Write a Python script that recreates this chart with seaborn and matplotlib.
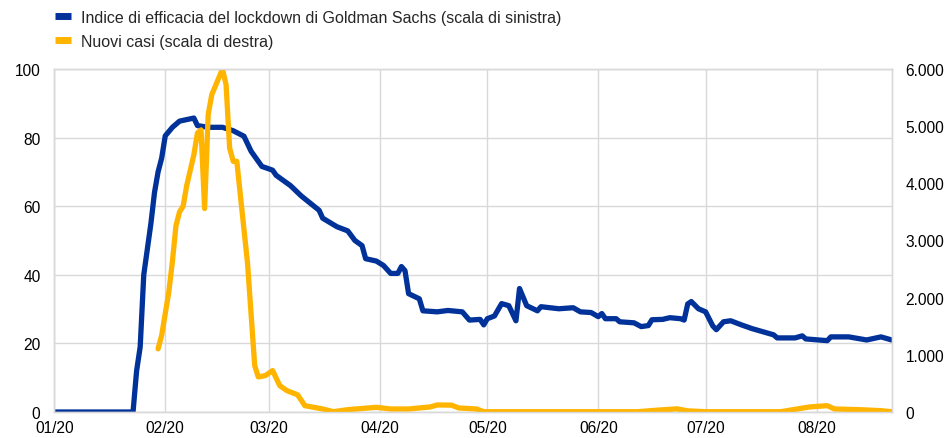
import matplotlib
matplotlib.use("Agg")
import matplotlib.pyplot as plt
import matplotlib.dates as mdates
from matplotlib.lines import Line2D
from matplotlib.ticker import FuncFormatter, MultipleLocator
import pandas as pd
import seaborn as sns

# Goldman Sachs lockdown effectiveness index (left scale)
index_dates = [
    "2020-01-01", "2020-01-23", "2020-01-24", "2020-01-25", "2020-01-26", "2020-01-28",
    "2020-01-29", "2020-01-30", "2020-01-31", "2020-02-01", "2020-02-03", "2020-02-05",
    "2020-02-09", "2020-02-10", "2020-02-13", "2020-02-17", "2020-02-20", "2020-02-23",
    "2020-02-25", "2020-02-28", "2020-03-02", "2020-03-03", "2020-03-07", "2020-03-10",
    "2020-03-15", "2020-03-16", "2020-03-20", "2020-03-23", "2020-03-25", "2020-03-27",
    "2020-03-28", "2020-03-31", "2020-04-02", "2020-04-04", "2020-04-06", "2020-04-07",
    "2020-04-08", "2020-04-09", "2020-04-12", "2020-04-13", "2020-04-17", "2020-04-20",
    "2020-04-24", "2020-04-26", "2020-04-29", "2020-04-30", "2020-05-01", "2020-05-03",
    "2020-05-05", "2020-05-07", "2020-05-09", "2020-05-10", "2020-05-12", "2020-05-15",
    "2020-05-16", "2020-05-21", "2020-05-25", "2020-05-27", "2020-05-30", "2020-06-01",
    "2020-06-02", "2020-06-03", "2020-06-06", "2020-06-07", "2020-06-11", "2020-06-13",
    "2020-06-15", "2020-06-16", "2020-06-19", "2020-06-21", "2020-06-24", "2020-06-25",
    "2020-06-26", "2020-06-27", "2020-06-29", "2020-07-01", "2020-07-03", "2020-07-04",
    "2020-07-06", "2020-07-08", "2020-07-11", "2020-07-14", "2020-07-17", "2020-07-20",
    "2020-07-21", "2020-07-26", "2020-07-28", "2020-07-29", "2020-08-04", "2020-08-05",
    "2020-08-10", "2020-08-15", "2020-08-19", "2020-08-22",
]
index_values = [
    0, 0, 12, 19, 40, 55,
    64, 70, 74, 80.5, 83, 84.8,
    85.7, 83.5, 83, 83, 82, 80.4,
    76, 71.6, 70.5, 69, 66, 63,
    58.8, 56.5, 54, 52.8, 50, 48.5,
    44.7, 44, 42.7, 40.4, 40.4, 42.4,
    41.2, 34.5, 33, 29.5, 29.2, 29.6,
    29.2, 26.8, 27, 25.4, 27.2, 28,
    31.6, 31, 26.6, 36, 31, 29.5,
    30.7, 30.1, 30.4, 29.2, 29, 27.8,
    28.7, 27.2, 27.2, 26.3, 26, 24.9,
    25.2, 26.9, 27, 27.5, 27.2, 26.8,
    31.5, 32.2, 30.1, 29.2, 25.1, 24,
    26.3, 26.6, 25.4, 24.3, 23.4, 22.5,
    21.6, 21.6, 22.2, 21.3, 20.8, 21.9,
    21.9, 21, 21.9, 21,
]

# New cases (right scale)
cases_dates = [
    "2020-01-30", "2020-01-31", "2020-02-02", "2020-02-03", "2020-02-04", "2020-02-05",
    "2020-02-06", "2020-02-07", "2020-02-09", "2020-02-10", "2020-02-11", "2020-02-12",
    "2020-02-13", "2020-02-14", "2020-02-17", "2020-02-18", "2020-02-19", "2020-02-20",
    "2020-02-21", "2020-02-24", "2020-02-26", "2020-02-27", "2020-02-29", "2020-03-02",
    "2020-03-04", "2020-03-06", "2020-03-09", "2020-03-11", "2020-03-16", "2020-03-19",
    "2020-03-23", "2020-03-31", "2020-04-04", "2020-04-09", "2020-04-15", "2020-04-17",
    "2020-04-21", "2020-04-23", "2020-04-28", "2020-04-30", "2020-06-12", "2020-06-17",
    "2020-06-23", "2020-06-26", "2020-07-01", "2020-07-22", "2020-07-30", "2020-08-04",
    "2020-08-06", "2020-08-13", "2020-08-19", "2020-08-22",
]
cases_values = [
    1105, 1340, 2100, 2630, 3260, 3500,
    3600, 3960, 4500, 4880, 4935, 3560,
    5200, 5550, 6000, 5725, 4615, 4385,
    4385, 2600, 812, 614, 637, 725,
    461, 374, 300, 111, 53, 5,
    41, 82, 53, 53, 88, 123,
    120, 70, 53, 5, 5, 30,
    55, 20, 5, 5, 88, 111,
    53, 41, 23, 5,
]

index_label = "Indice di efficacia del lockdown di Goldman Sachs (scala di sinistra)"
cases_label = "Nuovi casi (scala di destra)"

BLUE = "#003299"
YELLOW = "#FFB400"
GRID = "#d9d9d9"
FS = 11.2
LEG_FS = 11.5

sns.set_theme(style="white")
plt.rcParams["font.family"] = ["Liberation Sans", "DejaVu Sans"]
plt.rcParams["font.size"] = FS

index_df = pd.DataFrame({"date": pd.to_datetime(index_dates), "value": index_values})
cases_df = pd.DataFrame({"date": pd.to_datetime(cases_dates), "value": cases_values})

W, H = 947, 439
fig = plt.figure(figsize=(W / 100, H / 100), dpi=100)
x0, x1, y_top, y_bot = 54.3, 891.7, 70, 413
ax = fig.add_axes([x0 / W, 1 - y_bot / H, (x1 - x0) / W, (y_bot - y_top) / H])
ax2 = ax.twinx()

lw = 3.8
sns.lineplot(data=index_df, x="date", y="value", ax=ax, color=BLUE, lw=lw,
             solid_joinstyle="round", legend=False)
sns.lineplot(data=cases_df, x="date", y="value", ax=ax2, color=YELLOW, lw=lw,
             solid_joinstyle="round", legend=False)

ax.set_xlim(pd.Timestamp("2020-01-01"), pd.Timestamp("2020-08-22"))
ax.set_ylim(0, 100)
ax2.set_ylim(0, 6000)
ax.yaxis.set_major_locator(MultipleLocator(20))
ax2.yaxis.set_major_locator(MultipleLocator(1000))
ax2.yaxis.set_major_formatter(FuncFormatter(lambda v, p: f"{int(v):,}".replace(",", ".")))

ax.xaxis.set_major_locator(mdates.MonthLocator())
ax.xaxis.set_major_formatter(mdates.DateFormatter("%m/%y"))

ax.grid(True, color=GRID, lw=1)
ax2.grid(False)
for a in (ax, ax2):
    a.set_xlabel("")
    a.set_ylabel("")
    for s in a.spines.values():
        s.set_color(GRID)
        s.set_linewidth(1)
    a.tick_params(length=0, labelsize=FS, colors="#000000")
ax.tick_params(axis="y", pad=10)
ax.tick_params(axis="x", pad=6)
ax2.tick_params(axis="y", pad=10)

handles = [
    Line2D([], [], color=BLUE, lw=5, solid_capstyle="butt"),
    Line2D([], [], color=YELLOW, lw=5, solid_capstyle="butt"),
]
fig.legend(handles, [index_label, cases_label], loc="upper left",
           bbox_to_anchor=(55 / W, 1 - 11 / H), frameon=False, fontsize=LEG_FS,
           handlelength=1.0, handletextpad=0.62, labelspacing=0.55,
           borderpad=0, borderaxespad=0)

fig.savefig("out.png", dpi=100)
